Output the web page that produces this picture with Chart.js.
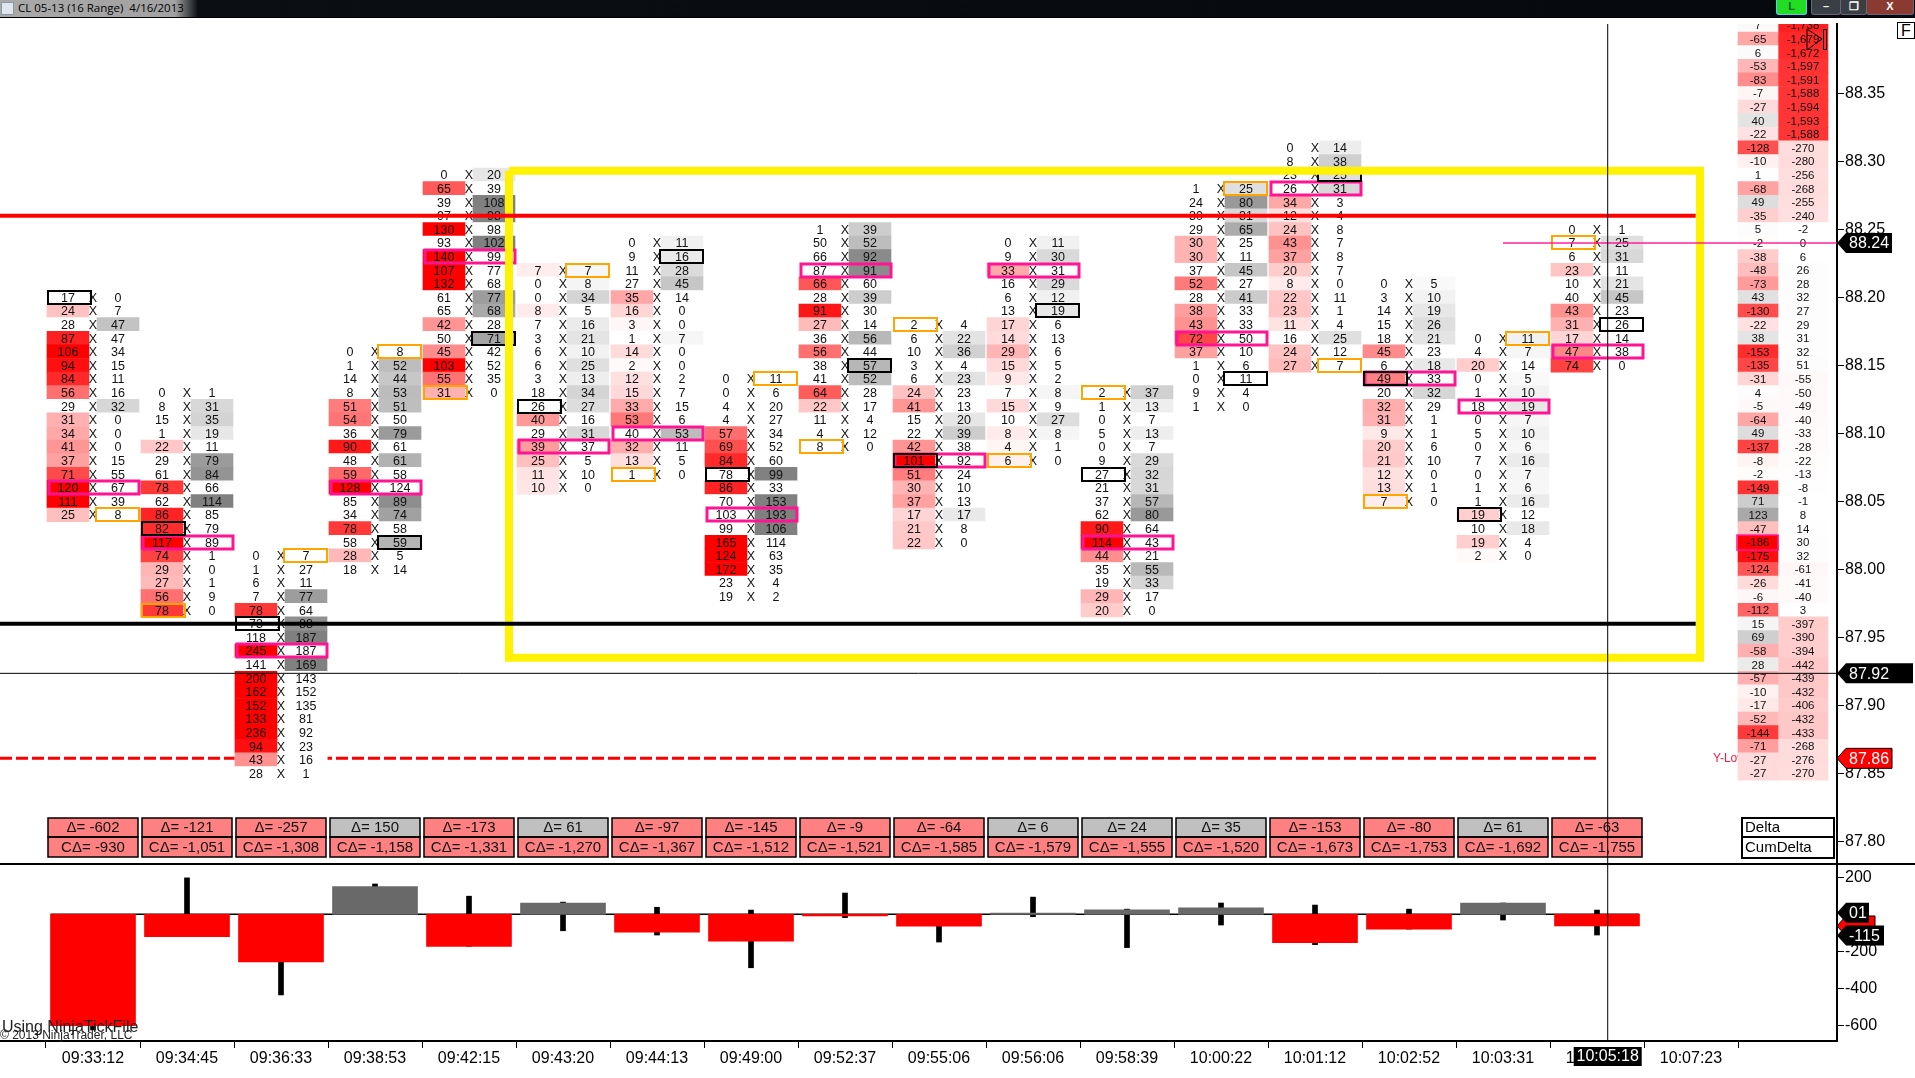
<!DOCTYPE html>
<html>
<head>
<meta charset="utf-8">
<title>CL 05-13 (16 Range)</title>
<script src="https://cdn.jsdelivr.net/npm/chart.js@4/dist/chart.umd.min.js"></script>
<style>
    html, body { margin: 0; padding: 0; background: #fff; overflow: hidden; }
    canvas { position: absolute; left: 0; display: block; }
    #precio { top: 0; }
    #delta { top: 864px; }
    #titulo { position: absolute; left: 0; top: 0; width: 1915px; height: 17px; border-bottom: 1px solid #000; z-index: 5;
        background: linear-gradient(90deg, #a9a9a9 0, #a2a2a2 175px, #0b0e12 198px, #05080c 100%);
        font: 11.5px "Open Sans", sans-serif; line-height: 16px; color: #000; }
    #titulo span { position: absolute; left: 18px; top: 0; white-space: pre; }
    #titulo i { position: absolute; left: 1px; top: 2px; width: 11px; height: 11px; background: #dfe6ee; border: 1px solid #8899aa; }
    .btn { position: absolute; top: 0; height: 14px; border: 1px solid #667; border-top: 0; border-radius: 0 0 3px 3px;
        background: #3a3f46; color: #fff; font: bold 11px "Liberation Sans"; text-align: center; line-height: 12px; }
    #separador { position: absolute; left: 0; top: 863px; width: 1915px; height: 2px; background: #000; z-index: 4; }
    #botonF { position: absolute; left: 1897px; top: 22px; width: 18px; height: 17px; border: 1px solid #000; box-sizing: border-box;
        font: 16px "Liberation Sans"; line-height: 15px; padding-left: 3px; background: #fff; z-index: 4; }
</style>
</head>
<body>
<div id="titulo"><i></i><span>CL 05-13 (16 Range)  4/16/2013</span>
    <div class="btn" style="left:1776px;width:29px;background:#22dd22;color:#063;border-color:#5cf;">L</div>
    <div class="btn" style="left:1811px;width:28px;">&#8211;</div>
    <div class="btn" style="left:1840px;width:25px;">&#10064;</div>
    <div class="btn" style="left:1866px;width:46px;background:#8a3a30;">X</div>
</div>
<div id="separador"></div>
<div id="botonF">F</div>
<canvas id="precio" width="1915" height="864"></canvas>
<canvas id="delta" width="1915" height="214"></canvas>

<script>
// Etiquetas del eje de tiempo (la ultima no tiene barra todavia)
const timeLabels = ["09:33:12", "09:34:45", "09:36:33", "09:38:53", "09:42:15", "09:43:20", "09:44:13", "09:49:00", "09:52:37",
    "09:55:06", "09:56:06", "09:58:39", "10:00:22", "10:01:12", "10:02:52", "10:03:31", "10:05:18", "10:07:23"];
const priceTicks = [88.35, 88.30, 88.25, 88.20, 88.15, 88.10, 88.05, 88.00, 87.95, 87.90, 87.85, 87.80];
const deltaTicks = [200, -200, -400, -600];

// Precio de la fila superior de cada barra
const topPrices = [88.20, 88.13, 88.01, 88.16, 88.29, 88.22, 88.24, 88.14, 88.25, 88.18, 88.24, 88.13, 88.28, 88.31, 88.21, 88.17, 88.25];

const bidVolumes = [
    [17, 24, 28, 87, 106, 94, 84, 56, 29, 31, 34, 41, 37, 71, 120, 111, 25],
    [0, 8, 15, 1, 22, 29, 61, 78, 62, 86, 82, 117, 74, 29, 27, 56, 78],
    [0, 1, 6, 7, 78, 73, 118, 245, 141, 200, 162, 152, 133, 236, 94, 43, 28],
    [0, 1, 14, 8, 51, 54, 36, 90, 48, 59, 128, 85, 34, 78, 58, 28, 18],
    [0, 65, 39, 97, 130, 93, 140, 107, 132, 61, 65, 42, 50, 45, 103, 55, 31],
    [7, 0, 0, 8, 7, 3, 6, 6, 3, 18, 26, 40, 29, 39, 25, 11, 10],
    [0, 9, 11, 27, 35, 16, 3, 1, 14, 2, 12, 15, 33, 53, 40, 32, 13, 1],
    [0, 0, 4, 4, 57, 69, 84, 78, 86, 70, 103, 99, 165, 124, 172, 23, 19],
    [1, 50, 66, 87, 66, 28, 91, 27, 36, 56, 38, 41, 64, 22, 11, 4, 8],
    [2, 6, 10, 3, 6, 24, 41, 15, 22, 42, 101, 51, 30, 37, 17, 21, 22],
    [0, 9, 33, 16, 6, 13, 17, 14, 29, 15, 9, 7, 15, 10, 8, 4, 6],
    [2, 1, 0, 5, 0, 9, 27, 21, 37, 62, 90, 114, 44, 35, 19, 29, 20],
    [1, 24, 30, 29, 30, 30, 37, 52, 28, 38, 43, 72, 37, 1, 0, 9, 1],
    [0, 8, 23, 26, 34, 12, 24, 43, 37, 20, 8, 22, 23, 11, 16, 24, 27],
    [0, 3, 14, 15, 18, 45, 6, 49, 20, 32, 31, 9, 20, 21, 12, 13, 7],
    [0, 4, 20, 0, 1, 18, 0, 5, 0, 7, 0, 1, 1, 19, 10, 19, 2],
    [0, 7, 6, 23, 10, 40, 43, 31, 17, 47, 74]
];
const askVolumes = [
    [0, 7, 47, 47, 34, 15, 11, 16, 32, 0, 0, 0, 15, 55, 67, 39, 8],
    [1, 31, 35, 19, 11, 79, 84, 66, 114, 85, 79, 89, 1, 0, 1, 9, 0],
    [7, 27, 11, 77, 64, 88, 187, 187, 169, 143, 152, 135, 81, 92, 23, 16, 1],
    [8, 52, 44, 53, 51, 50, 79, 61, 61, 58, 124, 89, 74, 58, 59, 5, 14],
    [20, 39, 108, 98, 98, 102, 99, 77, 68, 77, 68, 28, 71, 42, 52, 35, 0],
    [7, 8, 34, 5, 16, 21, 10, 25, 13, 34, 27, 16, 31, 37, 5, 10, 0],
    [11, 16, 28, 45, 14, 0, 0, 7, 0, 0, 2, 7, 15, 6, 53, 11, 5, 0],
    [11, 6, 20, 27, 34, 52, 60, 99, 33, 153, 193, 106, 114, 63, 35, 4, 2],
    [39, 52, 92, 91, 60, 39, 30, 14, 56, 44, 57, 52, 28, 17, 4, 12, 0],
    [4, 22, 36, 4, 23, 23, 13, 20, 39, 38, 92, 24, 10, 13, 17, 8, 0],
    [11, 30, 31, 29, 12, 19, 6, 13, 6, 5, 2, 8, 9, 27, 8, 1, 0],
    [37, 13, 7, 13, 7, 29, 32, 31, 57, 80, 64, 43, 21, 55, 33, 17, 0],
    [25, 80, 31, 65, 25, 11, 45, 27, 41, 33, 33, 50, 10, 6, 11, 4, 0],
    [14, 38, 25, 31, 3, 4, 8, 7, 8, 7, 0, 11, 1, 4, 25, 12, 7],
    [5, 10, 19, 26, 21, 23, 18, 33, 32, 29, 1, 1, 6, 10, 0, 1, 0],
    [11, 7, 14, 5, 10, 19, 7, 10, 6, 16, 7, 6, 16, 12, 18, 4, 0],
    [1, 25, 31, 11, 21, 45, 23, 26, 14, 38, 0]
];
// Por debajo de este volumen la celda de cada barra queda sin color
const shadeFloor = [20, 12, 29, 20, 20, 0, 0, 29, 20, 5, 0, 8, 12, 0, 0, 0, 5];

// Filas marcadas en cada barra: maximo volumen, apertura y cierre ("b" = bid, "a" = ask)
const pocRow = [14, 11, 7, 10, 6, 13, 14, 10, 3, 10, 2, 11, 11, 3, 7, 5, 9];
const openRow = [0, 10, 5, 14, 12, 10, 1, 7, 10, 10, 5, 6, 14, 2, 7, 13, 7];
const openSide = ["b", "b", "b", "a", "a", "b", "a", "b", "a", "b", "a", "b", "a", "a", "b", "b", "a"];
const closeRow = [16, 16, 0, 0, 16, 0, 17, 0, 16, 0, 16, 0, 0, 16, 16, 0, 1];
const closeSide = ["a", "b", "a", "a", "b", "a", "b", "a", "b", "b", "b", "b", "a", "a", "b", "a", "b"];

const deltaValues = [-602, -121, -257, 150, -173, 61, -97, -145, -9, -64, 6, 24, 35, -153, -80, 61, -63];
const cumDeltaValues = [-930, -1051, -1308, -1158, -1331, -1270, -1367, -1512, -1521, -1585, -1579, -1555, -1520, -1673, -1753, -1692, -1755];
const wickHigh = [0, 197, 0, 164, 98, 66, 38, 23, 115, 0, 93, 28, 61, 50, 28, 61, 23];
const wickLow = [-625, -121, -436, 0, -173, -89, -112, -289, -18, -150, -13, -180, -58, -164, -80, -31, -112];

// Perfil de la derecha, una fila por tick desde 88.40 hasta 87.85
const profileTop = 88.40;
const profileDelta = [7, -65, 6, -53, -83, -7, -27, 40, -22, -128, -10, 1, -68, 49, -35, 5, -2, -38, -48, -73, 43, -130, -22, 38,
    -153, -135, -31, 4, -5, -64, 49, -137, -8, -2, -149, 71, 123, -47, -186, -175, -124, -26, -6, -112, 15, 69, -58, 28, -57, -10,
    -17, -52, -144, -71, -27, -27];
const profileCum = [-1738, -1679, -1672, -1597, -1591, -1588, -1594, -1593, -1588, -270, -280, -256, -268, -255, -240, -2, 0, 6, 26,
    28, 32, 27, 29, 31, 32, 51, -55, -50, -49, -40, -33, -28, -22, -13, -8, -1, 8, 14, 30, 32, -61, -41, -40, 3, -397, -390, -394,
    -442, -439, -432, -406, -432, -433, -268, -276, -270];

// Niveles dibujados sobre el grafico
const priorHigh = 88.26;
const priorLow = 87.96;
const yesterdayLow = 87.861;
const lastPrice = 88.24;
const cursorPrice = 87.9235;
const cursorBar = 16.114;
const boxBars = [4.4255, 17.096];
const boxPrices = [88.293, 87.935];

// Geometria en pixeles de una columna (separacion 94 px, primera en x = 93)
const barStep = 94;
const firstBarPx = 93;
const plotRightPx = 1837;
const xMin = -firstBarPx / barStep;
const xMax = (plotRightPx - firstBarPx) / barStep;
const cellOffset = 25;
const tick = 0.01;

function redColor(alpha) {
    const g = Math.round(255 * (1 - Math.min(1, alpha)));
    return `rgb(255,${g},${g})`;
}

function grayColor(level) {
    const g = Math.round(level);
    return `rgb(${g},${g},${g})`;
}

function bidColor(bid, ask, floor) {
    return bid >= ask && bid >= floor ? redColor(bid / 100) : "#ffffff";
}

function askColor(bid, ask, floor) {
    return ask >= bid && ask >= floor ? grayColor(255 - 127 * Math.min(1, ask / 100)) : "#ffffff";
}

function profileDeltaColor(v) {
    return v < 0 ? redColor(-v / 186) : grayColor(255 - 0.7 * v);
}

function profileCumColor(v) {
    return v < 0 ? redColor(-v / 2000) : grayColor(255 - 0.06 * v);
}

// Celdas como barras flotantes
const backCells = [], bidCells = [], askCells = [], bidColors = [], askColors = [];
bidVolumes.forEach((rows, c) => {
    rows.forEach((bid, r) => {
        const p = topPrices[c] - r * tick;
        const ask = askVolumes[c][r];
        const range = [p - tick / 2, p + tick / 2];
        backCells.push({ x: c, y: range });
        bidCells.push({ x: c - cellOffset / barStep, y: range });
        askCells.push({ x: c + cellOffset / barStep, y: range });
        bidColors.push(bidColor(bid, ask, shadeFloor[c]));
        askColors.push(askColor(bid, ask, shadeFloor[c]));
    });
});

const profileX1 = (1758 - firstBarPx) / barStep;
const profileX2 = (1803 - firstBarPx) / barStep;
const rowRange = i => [profileTop - i * tick - tick / 2, profileTop - i * tick + tick / 2];
const profile1 = profileDelta.map((v, i) => ({ x: profileX1, y: rowRange(i) }));
const profile2 = profileCum.map((v, i) => ({ x: profileX2, y: rowRange(i) }));

function hline(label, y, x0, x1, color, width, order, dash) {
    return {
        type: "line", label, order, data: [{ x: x0, y }, { x: x1, y }], borderColor: color, borderWidth: width,
        borderDash: dash || [], pointRadius: 0, fill: false, tension: 0, borderCapStyle: "butt"
    };
}

function cellBars(label, data, colors, width, order) {
    return { type: "bar", label, data, backgroundColor: colors, barThickness: width, grouped: false, order, borderWidth: 0 };
}

function textCell(ctx, text, x, y) {
    ctx.fillText(text, x, y + 1);
}

// Flecha de etiqueta sobre el eje derecho
function priceTag(ctx, y, x2, text, fill, color, stroke) {
    const h = 10;
    ctx.beginPath();
    ctx.moveTo(plotRightPx, y);
    ctx.lineTo(plotRightPx + 9, y - h);
    ctx.lineTo(x2, y - h);
    ctx.lineTo(x2, y + h);
    ctx.lineTo(plotRightPx + 9, y + h);
    ctx.closePath();
    ctx.fillStyle = fill;
    ctx.fill();
    if (stroke) {
        ctx.strokeStyle = stroke;
        ctx.lineWidth = 1;
        ctx.stroke();
    }
    ctx.fillStyle = color;
    ctx.font = "16px 'Liberation Sans'";
    ctx.textAlign = "left";
    ctx.textBaseline = "middle";
    ctx.fillText(text, plotRightPx + 12, y + 1);
}

function rowBox(ctx, x0, x1, y, half, color, width) {
    ctx.strokeStyle = color;
    ctx.lineWidth = width;
    ctx.strokeRect(Math.round(x0), Math.round(y - half), Math.round(x1 - x0), half * 2);
}

// Textos y marcos de las celdas: van antes de las lineas de nivel
const footprintPlugin = {
    id: "footprint",
    beforeDatasetsDraw(chart) {
        const { ctx, scales } = chart;
        ctx.save();
        ctx.fillStyle = "#ff1744";
        ctx.font = "12px 'Liberation Sans'";
        ctx.textBaseline = "middle";
        ctx.fillText("Y-Low", 1713, scales.y.getPixelForValue(yesterdayLow));
        ctx.restore();
    },
    afterDatasetDraw(chart, args) {
        if (chart.data.datasets[args.index].label !== "bid") return;
        const { ctx, scales, chartArea } = chart;
        const xs = scales.x, ys = scales.y;
        ctx.save();
        ctx.beginPath();
        ctx.rect(0, chartArea.top, chartArea.right, chartArea.bottom - chartArea.top);
        ctx.clip();

        ctx.textAlign = "center";
        ctx.textBaseline = "middle";
        ctx.fillStyle = "#111";
        ctx.font = "12.5px 'Liberation Sans'";
        bidVolumes.forEach((rows, c) => {
            const cx = xs.getPixelForValue(c);
            rows.forEach((bid, r) => {
                const y = ys.getPixelForValue(topPrices[c] - r * tick);
                textCell(ctx, bid, cx - cellOffset, y);
                textCell(ctx, "X", cx, y);
                textCell(ctx, askVolumes[c][r], cx + cellOffset, y);
            });
        });

        ctx.font = "11.5px 'Liberation Sans'";
        profileDelta.forEach((v, i) => {
            const y = ys.getPixelForValue(profileTop - i * tick);
            textCell(ctx, v.toLocaleString("en-US"), xs.getPixelForValue(profileX1), y);
            textCell(ctx, profileCum[i].toLocaleString("en-US"), xs.getPixelForValue(profileX2), y);
        });

        // Marcos: primero maximo volumen, luego cierre y apertura
        bidVolumes.forEach((rows, c) => {
            const cx = xs.getPixelForValue(c);
            rowBox(ctx, cx - 44.5, cx + 45.5, ys.getPixelForValue(topPrices[c] - pocRow[c] * tick), 6.5, "#ff1493", 3);
            const yc = ys.getPixelForValue(topPrices[c] - closeRow[c] * tick);
            if (closeSide[c] === "b") rowBox(ctx, cx - 45, cx - 2, yc, 6.5, "#ffa500", 2);
            else rowBox(ctx, cx + 3, cx + 46, yc, 6.5, "#ffa500", 2);
            const yo = ys.getPixelForValue(topPrices[c] - openRow[c] * tick);
            if (openSide[c] === "b") rowBox(ctx, cx - 45, cx - 2, yo, 6.5, "#000", 2);
            else rowBox(ctx, cx + 3, cx + 46, yo, 6.5, "#000", 2);
        });
        const maxRow = profileDelta.indexOf(-186);
        ctx.strokeStyle = "#ff1493";
        ctx.lineWidth = 1.5;
        ctx.strokeRect(1737, ys.getPixelForValue(profileTop - maxRow * tick) - 7, 41, 15);

        // Recuadros de delta y delta acumulado
        ctx.font = "15px 'Liberation Sans'";
        const boxTop = chartArea.bottom - 46;
        deltaValues.forEach((d, c) => {
            const cx = xs.getPixelForValue(c);
            ctx.fillStyle = d < 0 ? "#ff8080" : "#c0c0c0";
            ctx.fillRect(cx - 45, boxTop, 90, 19);
            ctx.fillStyle = "#ff8080";
            ctx.fillRect(cx - 45, boxTop + 19, 90, 20);
            ctx.strokeStyle = "#000";
            ctx.lineWidth = 1.5;
            ctx.strokeRect(cx - 45, boxTop, 90, 19);
            ctx.strokeRect(cx - 45, boxTop + 19, 90, 20);
            ctx.fillStyle = "#111";
            ctx.fillText("\u0394= " + d.toLocaleString("en-US"), cx, boxTop + 10);
            ctx.fillText("C\u0394= " + cumDeltaValues[c].toLocaleString("en-US"), cx, boxTop + 30);
        });
        ctx.restore();
    },
    afterDatasetsDraw(chart) {
        const { ctx, scales, chartArea } = chart;
        const ys = scales.y;
        ctx.save();
        // Leyenda de columnas
        const boxTop = chartArea.bottom - 46;
        ctx.fillStyle = "#fff";
        ctx.fillRect(1742, boxTop, 92, 40);
        ctx.strokeStyle = "#000";
        ctx.lineWidth = 2;
        ctx.strokeRect(1742, boxTop, 92, 19);
        ctx.strokeRect(1742, boxTop + 19, 92, 21);
        ctx.fillStyle = "#000";
        ctx.font = "15px 'Liberation Sans'";
        ctx.textAlign = "left";
        ctx.textBaseline = "middle";
        ctx.fillText("Delta", 1745, boxTop + 10);
        ctx.fillText("CumDelta", 1745, boxTop + 30);

        // Flecha de la esquina
        ctx.strokeStyle = "#000";
        ctx.lineWidth = 1;
        ctx.beginPath();
        ctx.moveTo(1807, 29); ctx.lineTo(1822, 39); ctx.lineTo(1807, 50); ctx.closePath();
        ctx.stroke();
        ctx.strokeRect(1823.5, 29.5, 3, 20);

        priceTag(ctx, ys.getPixelForValue(lastPrice), 1892, lastPrice.toFixed(2), "#000", "#fff");
        priceTag(ctx, ys.getPixelForValue(cursorPrice), 1913, "87.92", "#000", "#fff");
        priceTag(ctx, ys.getPixelForValue(yesterdayLow), 1892, "87.86", "#ff0000", "#fff", "#000");
        ctx.restore();
    }
};

const deltaPanelPlugin = {
    id: "deltaPanel",
    afterDatasetsDraw(chart) {
        const { ctx, scales, chartArea } = chart;
        const ys = scales.y;
        ctx.save();
        priceTag(ctx, ys.getPixelForValue(-63), 1875, "", "#ff0000", "#fff", "#000");
        priceTag(ctx, ys.getPixelForValue(8), 1869, "01", "#000", "#fff");
        priceTag(ctx, ys.getPixelForValue(-115), 1884, "-115", "#000", "#fff");

        ctx.fillStyle = "#000";
        ctx.textAlign = "center";
        ctx.textBaseline = "middle";
        const tagX = scales.x.getPixelForValue(cursorBar);
        ctx.fillRect(tagX - 34, chartArea.bottom + 6, 68, 19);
        ctx.fillStyle = "#fff";
        ctx.font = "16px 'Liberation Sans'";
        ctx.fillText("10:05:18", tagX, chartArea.bottom + 16);

        ctx.textAlign = "left";
        ctx.fillStyle = "#222";
        ctx.fillText("Using NinjaTickFile", 2, chartArea.bottom - 13);
        ctx.font = "12px 'Liberation Sans'";
        ctx.fillText("\u00a9 2013 NinjaTrader, LLC", 0, chartArea.bottom - 5);
        ctx.restore();
    }
};

const baseOptions = {
    responsive: false,
    animation: false,
    events: [],
    layout: { padding: 0 },
    plugins: { legend: { display: false }, tooltip: { enabled: false } }
};

function rightAxis(min, max, ticks, format) {
    return {
        position: "right", min, max, beginAtZero: false,
        afterFit: axis => {
            axis.width = 1915 - plotRightPx;
            axis.paddingTop = 0;
            axis.paddingBottom = 0;
        },
        afterBuildTicks: axis => { axis.ticks = ticks.map(value => ({ value })); },
        ticks: {
            padding: 1, color: "#000", autoSkip: false, font: { family: "Liberation Sans", size: 16 },
            callback: format
        },
        grid: { drawOnChartArea: false, drawTicks: true, tickLength: 7, color: "#000" },
        border: { display: true, color: "#000", width: 2 }
    };
}

// Panel de precio
const priceMin = 88.35 - (864 - 93.3) / 1360;
const priceMax = 88.35 + (93.3 - 24) / 1360;
new Chart(document.getElementById("precio"), {
    type: "bar",
    data: {
        datasets: [
            hline("low", yesterdayLow, xMin, 16, "#ff0000", 3, 9, [12, 4]),
            cellBars("back", backCells, "#ffffff", 92, 8),
            cellBars("ask", askCells, askColors, 42, 7),
            cellBars("profile1", profile1, profileDelta.map(profileDeltaColor), 40, 7),
            cellBars("profile2", profile2, profileCum.map(profileCumColor), 50, 7),
            cellBars("bid", bidCells, bidColors, 42, 6),
            {
                type: "line", label: "box", order: 5, borderColor: "#fff200", borderWidth: 8, pointRadius: 0, tension: 0,
                borderJoinStyle: "miter", fill: false,
                data: [
                    { x: boxBars[0], y: boxPrices[0] }, { x: boxBars[1], y: boxPrices[0] },
                    { x: boxBars[1], y: boxPrices[1] }, { x: boxBars[0], y: boxPrices[1] }, { x: boxBars[0], y: boxPrices[0] }
                ]
            },
            hline("high", priorHigh, xMin, 17.05, "#ff0000", 4, 4),
            hline("prior", priorLow, xMin, 17.05, "#000000", 4, 4),
            hline("last", lastPrice, 15, xMax, "rgba(255,20,147,0.7)", 2, 3),
            hline("cursorH", cursorPrice, xMin, xMax, "#000000", 1, 2),
            {
                type: "line", label: "cursorV", order: 1, borderColor: "#000", borderWidth: 1, pointRadius: 0, fill: false,
                data: [{ x: cursorBar, y: priceMin }, { x: cursorBar, y: priceMax }]
            }
        ]
    },
    options: {
        ...baseOptions,
        layout: { padding: { top: 24 } },
        scales: {
            x: { type: "linear", display: false, offset: false, min: xMin, max: xMax },
            y: rightAxis(priceMin, priceMax, priceTicks, v => v.toFixed(2))
        }
    },
    plugins: [footprintPlugin]
});

// Panel inferior de delta
const barPoints = deltaValues.map((v, c) => ({ x: c, y: v }));
const wickPoints = deltaValues.map((v, c) => ({ x: c, y: [wickLow[c], wickHigh[c]] }));
new Chart(document.getElementById("delta"), {
    type: "bar",
    data: {
        datasets: [
            hline("zero", 0, -0.45, 16.45, "#000000", 1.5, 4),
            cellBars("wick", wickPoints, "#000000", 5, 3),
            cellBars("delta", barPoints, deltaValues.map(v => (v < 0 ? "#ff0000" : "#696969")), 85, 2),
            {
                type: "line", label: "cursorV", order: 1, borderColor: "#000", borderWidth: 1, pointRadius: 0, fill: false,
                data: [{ x: cursorBar, y: -685 }, { x: cursorBar, y: 272 }]
            }
        ]
    },
    options: {
        ...baseOptions,
        scales: {
            x: {
                type: "linear", offset: false, min: xMin, max: xMax,
                afterFit: axis => { axis.height = 37; axis.paddingLeft = 0; axis.paddingRight = 0; },
                afterBuildTicks: axis => { axis.ticks = timeLabels.map((t, i) => ({ value: i })); },
                ticks: {
                    padding: 1, maxRotation: 0, autoSkip: false, color: "#000", font: { family: "Liberation Sans", size: 16 },
                    callback: v => timeLabels[v]
                },
                grid: { drawOnChartArea: false, drawTicks: true, tickLength: 7, color: "#000" },
                border: { display: true, color: "#000", width: 2 }
            },
            y: rightAxis(-685, 272, deltaTicks, v => String(v))
        }
    },
    plugins: [deltaPanelPlugin]
});
</script>
</body>
</html>
